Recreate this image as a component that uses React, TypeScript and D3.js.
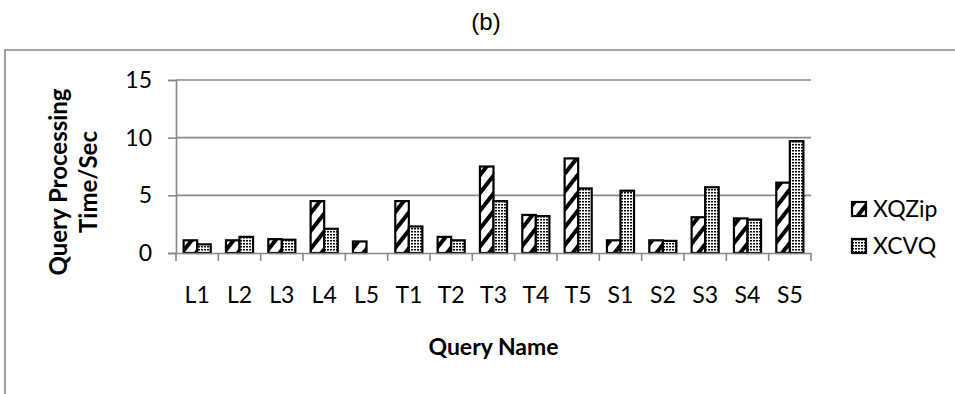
import React, { useEffect, useRef } from 'react';
import * as d3 from 'd3';

const categories = ['L1', 'L2', 'L3', 'L4', 'L5', 'T1', 'T2', 'T3', 'T4', 'T5', 'S1', 'S2', 'S3', 'S4', 'S5'];
const seriesNames = ['XQZip', 'XCVQ'];
const xqzip = [1.1, 1.1, 1.2, 4.5, 1.0, 4.5, 1.4, 7.5, 3.3, 8.2, 1.1, 1.1, 3.1, 3.0, 6.1];
const xcvq = [0.75, 1.4, 1.15, 2.1, 0, 2.3, 1.1, 4.5, 3.2, 5.6, 5.4, 1.05, 5.7, 2.9, 9.7];
const yTicks = [0, 5, 10, 15];

const width = 955;
const height = 394;
const margin = { top: 80, right: 144, bottom: 141, left: 176 };
const gray = '#878787';
const font = 'Lato, "Open Sans", sans-serif';

function App() {
  const ref = useRef<SVGSVGElement | null>(null);

  useEffect(() => {
    drawChart();
  }, []);

  function drawChart() {
    const svg = d3.select(ref.current);
    svg.selectAll('*').remove();

    // patterns
    const defs = svg.append('defs');
    const stripes = defs.append('pattern')
      .attr('id', 'stripes')
      .attr('patternUnits', 'userSpaceOnUse')
      .attr('width', 11)
      .attr('height', 11)
      .attr('patternTransform', 'rotate(38)');
    stripes.append('rect').attr('width', 11).attr('height', 11).attr('fill', '#fff');
    stripes.append('rect').attr('width', 4).attr('height', 11).attr('fill', '#000');

    const dots = defs.append('pattern')
      .attr('id', 'dots')
      .attr('patternUnits', 'userSpaceOnUse')
      .attr('width', 3)
      .attr('height', 3);
    dots.append('rect').attr('width', 3).attr('height', 3).attr('fill', '#fff');
    dots.append('rect').attr('width', 2).attr('height', 1.5).attr('fill', '#000');

    const fills = ['url(#stripes)', 'url(#dots)'];

    // outer frame
    svg.append('path')
      .attr('d', `M5,${height} L5,50 L${width},50`)
      .attr('fill', 'none')
      .attr('stroke', gray)
      .attr('stroke-width', 1.6);

    svg.append('text')
      .attr('x', 486)
      .attr('y', 30)
      .attr('text-anchor', 'middle')
      .style('font-family', '"Liberation Sans", Arial, sans-serif')
      .style('font-size', '24px')
      .text('(b)');

    const x = d3.scaleBand()
      .domain(categories)
      .range([margin.left, width - margin.right]);

    const y = d3.scaleLinear()
      .domain([0, 15])
      .range([height - margin.bottom, margin.top]);

    const group = x.bandwidth() * 0.64;
    const inner = d3.scaleBand()
      .domain(seriesNames)
      .range([(x.bandwidth() - group) / 2, (x.bandwidth() + group) / 2]);

    // gridlines
    svg.append('g')
      .selectAll('line')
      .data(yTicks.filter((t) => t > 0))
      .enter()
      .append('line')
      .attr('x1', margin.left)
      .attr('x2', width - margin.right)
      .attr('y1', (d) => y(d))
      .attr('y2', (d) => y(d))
      .attr('stroke', gray)
      .attr('stroke-width', 1.6);

    // y axis
    const yAxis = svg.append('g')
      .attr('transform', `translate(${margin.left},0)`)
      .call(d3.axisLeft(y).tickValues(yTicks).tickSize(8).tickPadding(16));
    yAxis.select('.domain').attr('stroke', gray).attr('stroke-width', 1.6);
    yAxis.selectAll('.tick line').attr('stroke', gray).attr('stroke-width', 1.6);
    yAxis.selectAll('.tick text')
      .style('font-family', font)
      .style('font-size', '23px')
      .attr('fill', '#000');

    // bars
    const series = [xqzip, xcvq];
    series.forEach((values, s) => {
      svg.append('g')
        .selectAll('rect')
        .data(values)
        .enter()
        .append('rect')
        .attr('x', (_, i) => (x(categories[i]) as number) + (inner(seriesNames[s]) as number))
        .attr('y', (d) => y(d))
        .attr('width', inner.bandwidth())
        .attr('height', (d) => y(0) - y(d))
        .attr('fill', fills[s])
        .attr('stroke', '#000')
        .attr('stroke-width', (d) => (d > 0 ? 2.2 : 0));
    });

    // x axis
    const xAxis = svg.append('g')
      .attr('transform', `translate(0,${y(0)})`)
      .call(d3.axisBottom(x).tickSize(0).tickPadding(34));
    xAxis.select('.domain').attr('stroke', gray).attr('stroke-width', 1.6);
    xAxis.selectAll('.tick text')
      .style('font-family', font)
      .style('font-size', '23px')
      .attr('fill', '#000');
    xAxis.append('g')
      .selectAll('line')
      .data(d3.range(categories.length + 1))
      .enter()
      .append('line')
      .attr('x1', (i) => margin.left + i * x.step())
      .attr('x2', (i) => margin.left + i * x.step())
      .attr('y1', 0)
      .attr('y2', 8)
      .attr('stroke', gray)
      .attr('stroke-width', 1.6);

    // axis titles
    svg.append('text')
      .attr('x', (margin.left + width - margin.right) / 2)
      .attr('y', 355)
      .attr('text-anchor', 'middle')
      .style('font-family', font)
      .style('font-size', '23px')
      .style('font-weight', 'bold')
      .text('Query Name');

    const yTitle = svg.append('text')
      .attr('transform', 'translate(0,182) rotate(-90)')
      .attr('text-anchor', 'middle')
      .style('font-family', font)
      .style('font-size', '24px')
      .style('font-weight', 'bold');
    yTitle.append('tspan').attr('x', 0).attr('y', 67).text('Query Processing');
    yTitle.append('tspan').attr('x', 0).attr('y', 97).text('Time/Sec');

    // legend
    const legend = svg.append('g')
      .selectAll('g')
      .data(seriesNames)
      .enter()
      .append('g')
      .attr('transform', (_, i) => `translate(852,${202 + i * 37})`);
    legend.append('rect')
      .attr('width', 14)
      .attr('height', 14)
      .attr('fill', (_, i) => fills[i])
      .attr('stroke', '#000')
      .attr('stroke-width', 2.2);
    legend.append('text')
      .attr('x', 21)
      .attr('y', 7)
      .attr('dy', '0.36em')
      .style('font-family', font)
      .style('font-size', '23px')
      .text((d) => d);
  }

  return (
    <svg
      ref={ref}
      width={width}
      height={height}
      style={{ position: 'absolute', left: 0, top: 0, background: '#fff' }}
    />
  );
}

export default App;
